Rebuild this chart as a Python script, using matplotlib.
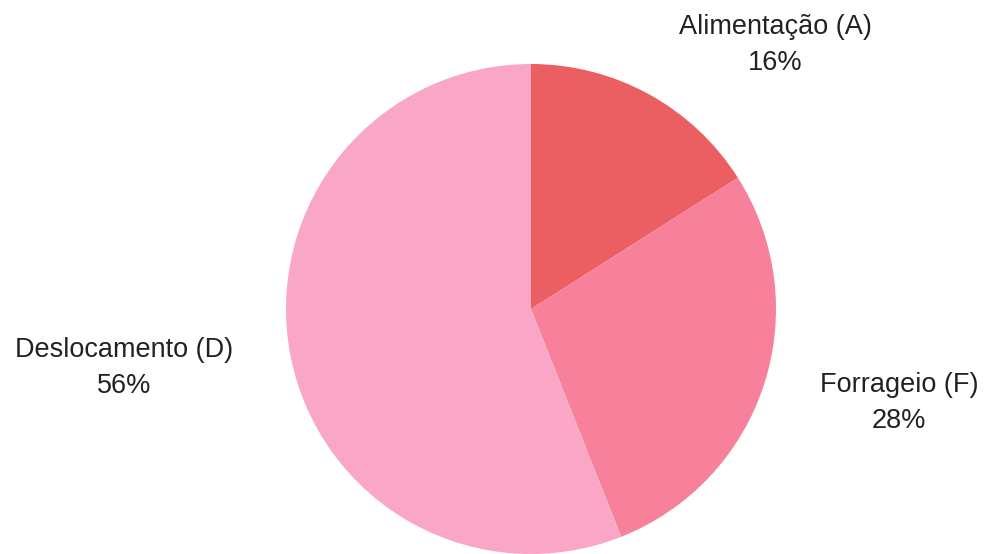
import matplotlib
matplotlib.use('Agg')
import matplotlib.pyplot as plt

# data
labels = ['Alimentação (A)', 'Forrageio (F)', 'Deslocamento (D)']
values = [16, 28, 56]
colors = ['#eb5e62', '#f7809a', '#f9a6c7']
label_pos = [(0.996, 1.078), (1.502, -0.384), (-1.661, -0.241)]

plt.rcParams['font.family'] = ['Liberation Sans', 'DejaVu Sans']

fig = plt.figure(figsize=(9.88, 5.54), dpi=100)
# pie centred at (531, 309) px, radius 245 px
ax = fig.add_axes([286 / 988, 0 / 554, 490 / 988, 490 / 554])
ax.pie(values, colors=colors, startangle=90, counterclock=False, radius=1,
       wedgeprops=dict(linewidth=0))
ax.set_xlim(-1, 1)
ax.set_ylim(-1, 1)
ax.set_aspect('equal')
ax.axis('off')

total = sum(values)
for lab, v, (x, y) in zip(labels, values, label_pos):
    ax.text(x, y, f'{lab}\n{round(100 * v / total)}%', ha='center', va='center',
            fontsize=19.5, color='#222222', linespacing=1.5, clip_on=False)

fig.savefig('out.png', dpi=100)
